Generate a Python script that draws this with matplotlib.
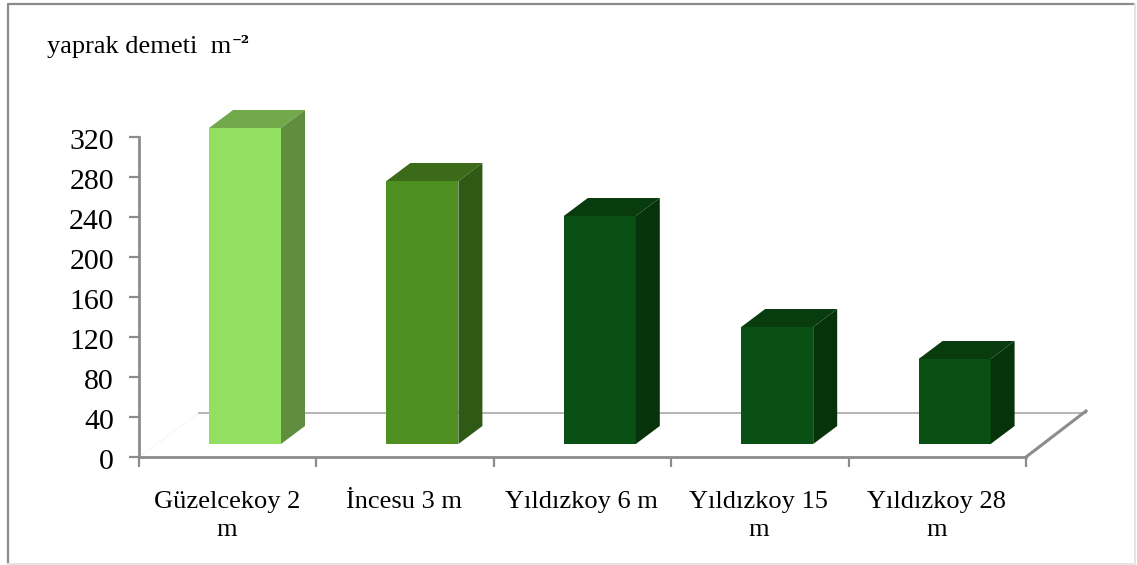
import matplotlib
matplotlib.use('Agg')
import matplotlib.pyplot as plt
from matplotlib.patches import Polygon, Rectangle
from matplotlib.transforms import ScaledTranslation

sites = ['Güzelcekoy 2\nm', 'İncesu 3 m', 'Yıldızkoy 6 m', 'Yıldızkoy 15\nm', 'Yıldızkoy 28\nm']
values = [316, 263, 228, 117, 85]
yticks = [0, 40, 80, 120, 160, 200, 240, 280, 320]

front_colors = ['#93DF62', '#4E8F22', '#0A5014', '#0A5014', '#0A5014']
top_colors = ['#71A94B', '#3B6B19', '#083C0F', '#083C0F', '#083C0F']
side_colors = ['#5E8E3E', '#2F5914', '#063309', '#063309', '#063309']

W, H = 1137, 565
GRAY = '#8C8C8C'
plt.rcParams['font.family'] = ['Liberation Serif', 'DejaVu Serif']

fig = plt.figure(figsize=(W / 100, H / 100), dpi=100, facecolor='white')

# outer frame of the chart area
fig.add_artist(plt.Line2D([8 / W, 8 / W, 1134 / W], [1 - 564 / H, 1 - 4 / H, 1 - 4 / H],
                          color=GRAY, lw=1.6))
fig.add_artist(plt.Line2D([8 / W, 1135 / W, 1135 / W], [1 - 564 / H, 1 - 564 / H, 1 - 4 / H],
                          color='#E4E4E4', lw=1.4))

ax = fig.add_axes([139 / W, 1 - 457 / H, 887 / W, 320 / H])
ax.set_xlim(0, len(sites))
ax.set_ylim(0, 320)
ax.patch.set_visible(False)

# one x unit is 177.4 px, one y unit is 1 px
xu = 887 / len(sites)
bar_w = 72 / xu
bar_shift = 17.3 / xu
base = 13
dx = 24 / xu
dy = 18
wall_dx = 60 / xu
wall_dy = 44

# floor and back wall edges
ax.plot([0, wall_dx], [0, wall_dy], color='#DDDDDD', lw=0.5, ls=':', clip_on=False, zorder=1)
ax.plot([wall_dx, 5 + wall_dx], [wall_dy, wall_dy], color='#A0A0A0', lw=1.1, clip_on=False, zorder=1)
ax.plot([5, 5 + wall_dx], [0, wall_dy + 2], color=GRAY, lw=2.2, clip_on=False, zorder=1)

for i, v in enumerate(values):
    x0 = i + 0.5 + bar_shift - bar_w / 2
    x1 = x0 + bar_w
    y0 = base
    y1 = base + v
    ax.add_patch(Rectangle((x0, y0), bar_w, v, fc=front_colors[i], ec='none', clip_on=False, zorder=3))
    ax.add_patch(Polygon([(x0, y1), (x1, y1), (x1 + dx, y1 + dy), (x0 + dx, y1 + dy)],
                         fc=top_colors[i], ec='none', clip_on=False, zorder=3))
    ax.add_patch(Polygon([(x1, y0), (x1 + dx, y0 + dy), (x1 + dx, y1 + dy), (x1, y1)],
                         fc=side_colors[i], ec='none', clip_on=False, zorder=3))

for s in ['top', 'right']:
    ax.spines[s].set_visible(False)
for s in ['left', 'bottom']:
    ax.spines[s].set_color(GRAY)
    ax.spines[s].set_linewidth(2)

ax.set_yticks(yticks)
ax.set_yticklabels([str(t) for t in yticks], fontsize=21.5, color='black')
ax.set_xticks(range(len(sites) + 1))
ax.set_xticklabels([])
ax.tick_params(axis='both', color=GRAY, width=1.6, length=7)
ax.tick_params(axis='y', pad=11)

# y labels hang a little below their ticks
nudge = ScaledTranslation(0, -2 / 100, fig.dpi_scale_trans)
for lab in ax.get_yticklabels():
    lab.set_transform(lab.get_transform() + nudge)

# category labels sit centred under each slot
for i, name in enumerate(sites):
    ax.annotate(name, (i + 0.5, 0), xytext=(-1, -34), textcoords='offset pixels',
                ha='center', va='top', fontsize=19, linespacing=1.36,
                annotation_clip=False)

fig.text(47 / W, 1 - 53 / H, 'yaprak demeti  m', fontsize=19, ha='left', va='baseline')
fig.text(232 / W, 1 - 49 / H, '⁻²', fontsize=13.5, fontweight='bold', ha='left', va='baseline',
         family=['DejaVu Serif'])

fig.savefig('out.png', dpi=100)
